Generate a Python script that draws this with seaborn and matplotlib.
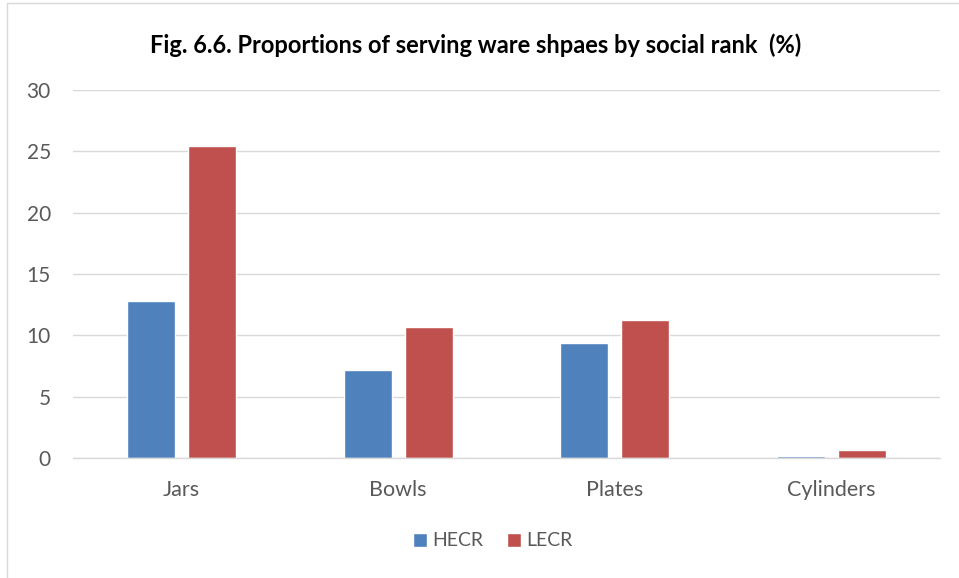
import matplotlib
matplotlib.use("Agg")
import matplotlib.pyplot as plt
import seaborn as sns
import pandas as pd
from matplotlib.patches import Rectangle

categories = ["Jars", "Bowls", "Plates", "Cylinders"]
series_names = ["HECR", "LECR"]
hecr_values = [12.8, 7.2, 9.35, 0.2]
lecr_values = [25.4, 10.7, 11.25, 0.65]
colors = ["#4F81BD", "#C0504D"]
yticks = [0, 5, 10, 15, 20, 25, 30]

df = pd.DataFrame({
    "category": categories * 2,
    "series": [series_names[0]] * 4 + [series_names[1]] * 4,
    "value": hecr_values + lecr_values,
})

sns.set_theme(style="white")
plt.rcParams["font.family"] = ["Lato", "DejaVu Sans"]

W, H = 959, 578
fig = plt.figure(figsize=(W / 100, H / 100), dpi=100)
ax = fig.add_axes([73 / W, (H - 458) / H, (940 - 73) / W, (458 - 90) / H])

sns.barplot(data=df, x="category", y="value", hue="series", order=categories,
            hue_order=series_names, palette=colors, width=0.564, gap=0.213,
            saturation=1, ax=ax, legend=True)

ax.set_ylim(0, 30)
ax.set_yticks(yticks)
ax.set_xlim(-0.5, 3.5)
ax.yaxis.grid(True, color="#D9D9D9", linewidth=1)
ax.set_axisbelow(True)
for s in ["left", "right", "top"]:
    ax.spines[s].set_visible(False)
ax.spines["bottom"].set_color("#D9D9D9")
ax.spines["bottom"].set_linewidth(1)
ax.tick_params(axis="both", length=0, colors="#595959")
ax.tick_params(axis="x", labelsize=15.5, pad=16)
ax.tick_params(axis="y", labelsize=15, pad=16)
ax.set_xlabel("")
ax.set_ylabel("")

fig.text(476 / W, (H - 45) / H, "Fig. 6.6. Proportions of serving ware shpaes by social rank  (%)",
         ha="center", va="center", fontsize=17, fontweight="bold", color="black")

handles, labels = ax.get_legend_handles_labels()
ax.legend_.remove()
fig.legend(handles, labels, loc="center", bbox_to_anchor=(493 / W, (H - 541) / H),
           ncol=2, frameon=False, fontsize=14, labelcolor="#595959",
           handlelength=0.7, handleheight=0.7, handletextpad=0.3, columnspacing=1.2)

fig.patches.append(Rectangle((7 / W, -0.05), 1.2, (H - 3) / H + 0.05, transform=fig.transFigure,
                             fill=False, edgecolor="#D9D9D9", linewidth=1))

fig.savefig("out.png", dpi=100, facecolor="white")
